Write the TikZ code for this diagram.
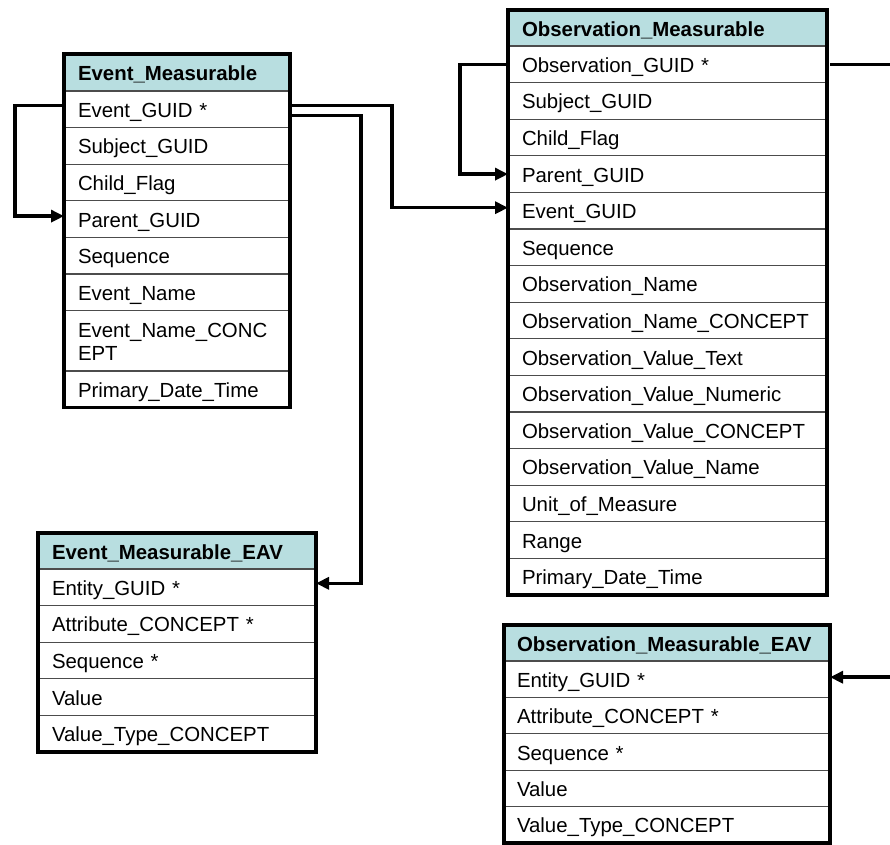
\documentclass[tikz,border=0pt]{standalone}
\usepackage{fontspec}
\setmainfont{Liberation Sans}
\usetikzlibrary{arrows.meta}
\definecolor{hdr}{RGB}{184,222,224}
\begin{document}
\begin{tikzpicture}[x=1pt,y=-1pt,
  cell/.style={draw=black!70, line width=1.2pt, anchor=north west, inner xsep=14pt, inner ysep=0pt,
    align=left, font=\fontsize{20.4}{23}\selectfont, outer sep=0pt, text height=16pt, text depth=0pt},
  hcell/.style={cell, fill=hdr, font=\fontsize{20.4}{23}\selectfont\bfseries},
  emcell/.style={text width=198pt, minimum width=226pt, minimum height=36.6pt},
  omcell/.style={text width=291pt, minimum width=319pt, minimum height=36.6pt},
  eacell/.style={text width=250pt, minimum width=278pt, minimum height=36.6pt},
  oacell/.style={inner xsep=13pt, text width=300pt, minimum width=326pt, minimum height=36.4pt},
  frame/.style={draw=black, line width=3.5pt},
  conn/.style={draw=black, line width=3.5pt, -{Triangle[length=13pt,width=12pt]}}]
\useasboundingbox (0,0) rectangle (890,844);
\fill[white] (0,0) rectangle (890,844);
\clip (0,0) rectangle (890,844);

% Event_Measurable
\node[hcell, emcell, minimum height=37pt] (em0) at (64,54) {Event\_Measurable};
\node[cell, emcell] (em1) at (64,91) {Event\_GUID *};
\node[cell, emcell] (em2) at (64,127.6) {Subject\_GUID};
\node[cell, emcell] (em3) at (64,164.2) {Child\_Flag};
\node[cell, emcell] (em4) at (64,200.8) {Parent\_GUID};
\node[cell, emcell] (em5) at (64,237.4) {Sequence};
\node[cell, emcell] (em6) at (64,274) {Event\_Name};
\node[cell, emcell, minimum height=60.4pt, text depth=23pt] (em7) at (64,310.6) {Event\_Name\_CONC\\EPT};
\node[cell, emcell] (em8) at (64,371) {Primary\_Date\_Time};

% Observation_Measurable
\node[hcell, omcell, minimum height=36pt] (om0) at (508,10) {Observation\_Measurable};
\foreach \t [count=\i] in {Observation\_GUID *, Subject\_GUID, Child\_Flag, Parent\_GUID,
  Event\_GUID, Sequence, Observation\_Name, Observation\_Name\_CONCEPT,
  Observation\_Value\_Text, Observation\_Value\_Numeric, Observation\_Value\_CONCEPT,
  Observation\_Value\_Name, Unit\_of\_Measure, Range, Primary\_Date\_Time}
  \node[cell, omcell] (om\i) at (508,{46+(\i-1)*36.6}) {\t};

% Event_Measurable_EAV
\node[hcell, eacell, minimum height=36pt] (ea0) at (38,533) {Event\_Measurable\_EAV};
\foreach \t [count=\i] in {Entity\_GUID *, Attribute\_CONCEPT *, Sequence *, Value, Value\_Type\_CONCEPT}
  \node[cell, eacell] (ea\i) at (38,{569+(\i-1)*36.6}) {\t};

% Observation_Measurable_EAV
\node[hcell, oacell, minimum height=36pt] (oa0) at (504,625) {Observation\_Measurable\_EAV};
\foreach \t [count=\i] in {Entity\_GUID *, Attribute\_CONCEPT *, Sequence *, Value, Value\_Type\_CONCEPT}
  \node[cell, oacell] (oa\i) at (504,{661+(\i-1)*36.4}) {\t};

% connectors
\draw[conn] ([yshift=4pt]em1.west) -- ++(-49,0) |- ([yshift=3pt]em4.west);
\draw[conn] ([yshift=4pt]em1.east) -- ++(102,0) |- ([yshift=3pt]om5.west);
\draw[conn] ([yshift=-6pt]em1.east) -- ++(71,0) |- ([yshift=4pt]ea1.east);
\draw[conn] (om1.west) -- ++(-48,0) |- (om4.west);
\draw[conn] ([xshift=3pt]om1.east) -- ++(80,0) |- ([yshift=2pt]oa1.east);

% frames
\draw[frame] (em0.north west) rectangle (em8.south east);
\draw[frame] (om0.north west) rectangle (om15.south east);
\draw[frame] (ea0.north west) rectangle (ea5.south east);
\draw[frame] (oa0.north west) rectangle (oa5.south east);
\end{tikzpicture}
\end{document}
